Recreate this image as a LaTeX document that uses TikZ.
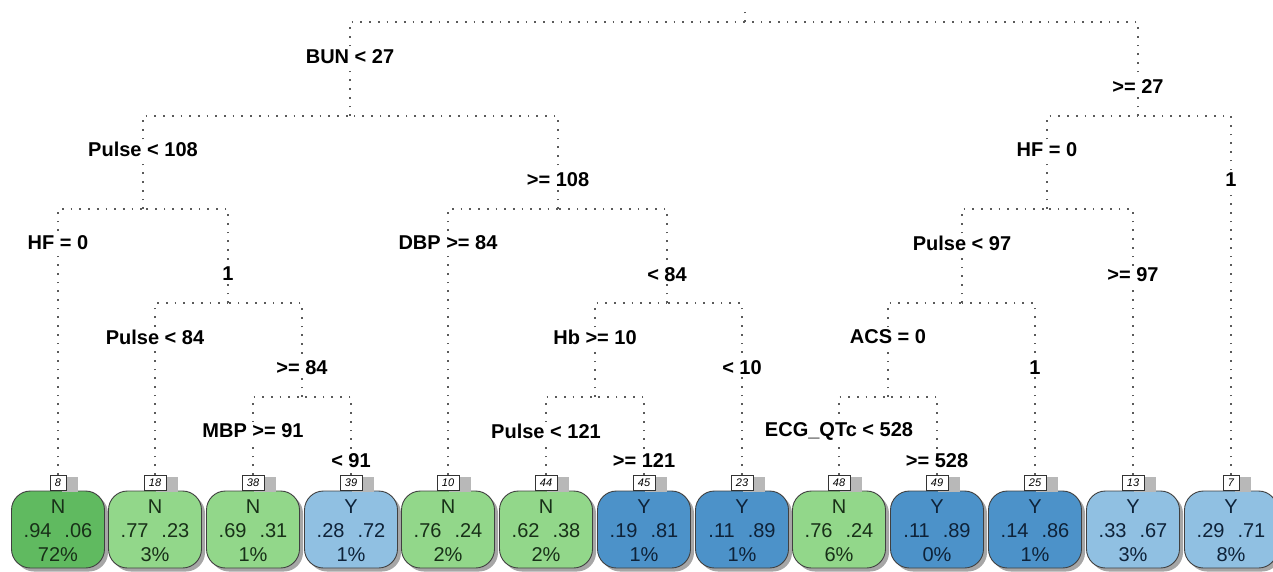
\documentclass[tikz,border=0pt]{standalone}
\usepackage{fontspec}
\setmainfont{Liberation Sans}
\usetikzlibrary{shadows}
\definecolor{dkgreen}{RGB}{96,186,96}
\definecolor{ltgreen}{RGB}{146,215,138}
\definecolor{dkblue}{RGB}{76,146,201}
\definecolor{ltblue}{RGB}{144,192,226}
\definecolor{txtg}{RGB}{24,48,24}
\definecolor{txtb}{RGB}{14,34,56}
\definecolor{dotgray}{RGB}{90,90,90}
\newcommand\leafnode[8]{%
  \node[leafbox, fill=#3] (leaf#1) at (#2,529.5) {};
  \node[leaftext, text=#4] (text#1) at (#2,531) {#5\\#6\hspace{13pt}#7\\#8};
  \node[tagbox] (tag#1) at (#2,482.5) {#1};
}
\begin{document}
\begin{tikzpicture}[x=1pt,y=-1pt,
  edge/.style={draw=dotgray, line width=1.7pt, dash pattern=on 1.7pt off 7pt},
  lbl/.style={font=\bfseries\fontsize{20}{22}\selectfont, fill=white, inner sep=1.5pt},
  tagbox/.style={draw=black!80, line width=0.6pt, fill=white, font=\itshape\fontsize{11}{12}\selectfont,
    minimum height=15pt, inner xsep=5pt, inner ysep=1.5pt,
    drop shadow={shadow xshift=12pt, shadow yshift=-1.5pt, fill=black!28, opacity=1}},
  leafbox/.style={draw=black!75, line width=0.9pt, rounded corners=19pt,
    minimum width=93pt, minimum height=77pt,
    drop shadow={shadow xshift=3.5pt, shadow yshift=-3.5pt, fill=black!35, opacity=1}},
  leaftext/.style={align=center, inner sep=0pt, font=\fontsize{20}{24}\selectfont},
]
\useasboundingbox (0,0) rectangle (1273,572);
% tree junctions
\coordinate (top) at (745,12);
\coordinate (n1) at (745,22);
\coordinate (n2) at (350,116);
\coordinate (n3) at (1138,116);
\coordinate (n4) at (143,209);
\coordinate (n5) at (558,209);
\coordinate (n6) at (1047,209);
\coordinate (n9) at (228,303);
\coordinate (n11) at (667,303);
\coordinate (n12) at (962,303);
\coordinate (n19) at (302,397);
\coordinate (n22) at (595,397);
\coordinate (n24) at (888,397);
% leaves
\leafnode{8}{58}{dkgreen}{txtg}{N}{.94}{.06}{72\%}
\leafnode{18}{155}{ltgreen}{txtg}{N}{.77}{.23}{3\%}
\leafnode{38}{253}{ltgreen}{txtg}{N}{.69}{.31}{1\%}
\leafnode{39}{351}{ltblue}{txtb}{Y}{.28}{.72}{1\%}
\leafnode{10}{448}{ltgreen}{txtg}{N}{.76}{.24}{2\%}
\leafnode{44}{546}{ltgreen}{txtg}{N}{.62}{.38}{2\%}
\leafnode{45}{644}{dkblue}{txtb}{Y}{.19}{.81}{1\%}
\leafnode{23}{742}{dkblue}{txtb}{Y}{.11}{.89}{1\%}
\leafnode{48}{839}{ltgreen}{txtg}{N}{.76}{.24}{6\%}
\leafnode{49}{937}{dkblue}{txtb}{Y}{.11}{.89}{0\%}
\leafnode{25}{1035}{dkblue}{txtb}{Y}{.14}{.86}{1\%}
\leafnode{13}{1133}{ltblue}{txtb}{Y}{.33}{.67}{3\%}
\leafnode{7}{1231}{ltblue}{txtb}{Y}{.29}{.71}{8\%}
% connectors
\draw[edge] (n1) -- (top);
\draw[edge] (n2) |- (n1);
\draw[edge] (n3) |- (n1);
\draw[edge] (n4) |- (n2);
\draw[edge] (n5) |- (n2);
\draw[edge] (n6) |- (n3);
\draw[edge] (tag7.north) |- (n3);
\draw[edge] (tag8.north) |- (n4);
\draw[edge] (n9) |- (n4);
\draw[edge] (tag18.north) |- (n9);
\draw[edge] (n19) |- (n9);
\draw[edge] (tag38.north) |- (n19);
\draw[edge] (tag39.north) |- (n19);
\draw[edge] (tag10.north) |- (n5);
\draw[edge] (n11) |- (n5);
\draw[edge] (n22) |- (n11);
\draw[edge] (tag23.north) |- (n11);
\draw[edge] (tag44.north) |- (n22);
\draw[edge] (tag45.north) |- (n22);
\draw[edge] (n12) |- (n6);
\draw[edge] (tag13.north) |- (n6);
\draw[edge] (n24) |- (n12);
\draw[edge] (tag25.north) |- (n12);
\draw[edge] (tag48.north) |- (n24);
\draw[edge] (tag49.north) |- (n24);
% split labels
\node[lbl] (l1) at (350,57) {BUN < 27};
\node[lbl] (l2) at (1138,87) {>= 27};
\node[lbl] (l3) at (143,149) {Pulse < 108};
\node[lbl] (l4) at (558,180) {>= 108};
\node[lbl] (l5) at (1047,150) {HF = 0};
\node[lbl] (l6) at (1231,180) {1};
\node[lbl] (l7) at (58,243) {HF = 0};
\node[lbl] (l8) at (228,274) {1};
\node[lbl] (l9) at (448,243) {DBP >= 84};
\node[lbl] (l10) at (667,275) {< 84};
\node[lbl] (l11) at (962,243) {Pulse < 97};
\node[lbl] (l12) at (1133,275) {>= 97};
\node[lbl] (l13) at (155,337) {Pulse < 84};
\node[lbl] (l14) at (302,368) {>= 84};
\node[lbl] (l15) at (595,337) {Hb >= 10};
\node[lbl] (l16) at (742,368) {< 10};
\node[lbl] (l17) at (888,337) {ACS = 0};
\node[lbl] (l18) at (1035,368) {1};
\node[lbl] (l19) at (253,431) {MBP >= 91};
\node[lbl] (l20) at (351,461) {< 91};
\node[lbl] (l21) at (546,431) {Pulse < 121};
\node[lbl] (l22) at (644,461) {>= 121};
\node[lbl] (l23) at (839,431) {ECG\_QTc < 528};
\node[lbl] (l24) at (937,461) {>= 528};
\end{tikzpicture}
\end{document}
